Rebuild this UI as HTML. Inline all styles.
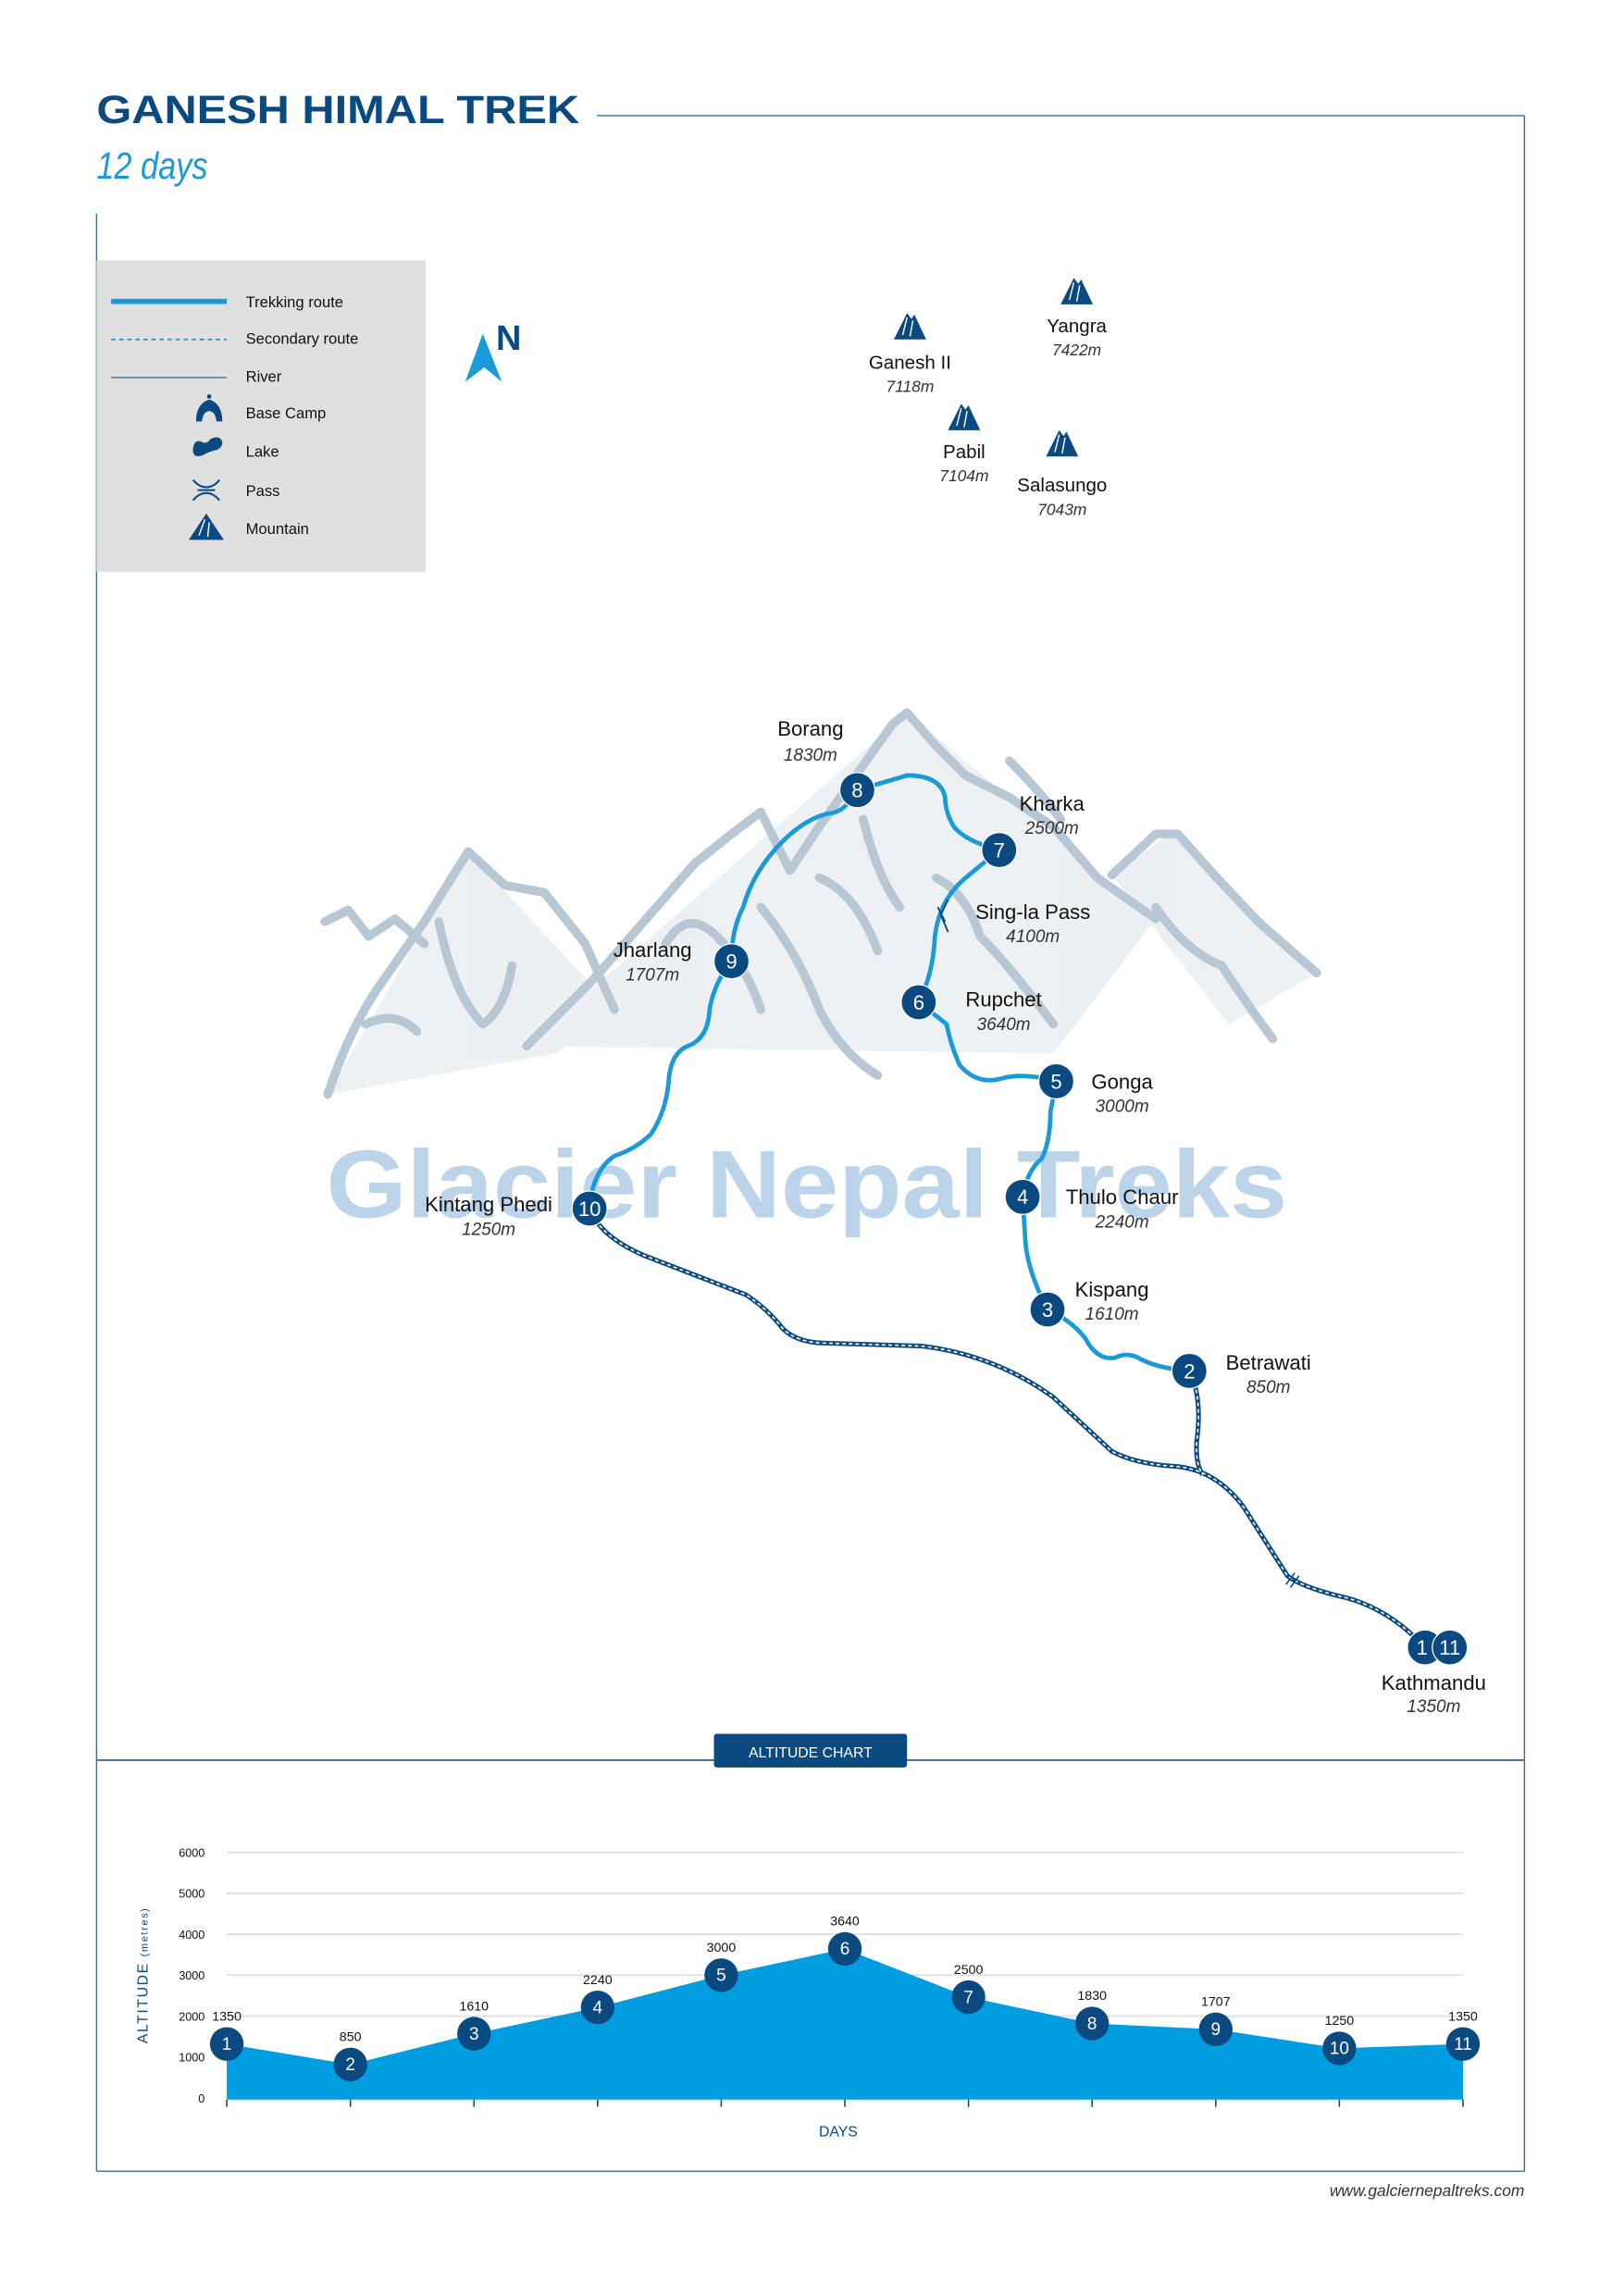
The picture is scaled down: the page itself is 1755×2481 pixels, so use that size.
<!DOCTYPE html>
<html><head><meta charset="utf-8"><style>
html,body{margin:0;padding:0;background:#fff}
svg{display:block}
text{font-family:"Liberation Sans",sans-serif}
</style></head><body>
<svg width="1755" height="2481" viewBox="0 0 1755 2481" xmlns="http://www.w3.org/2000/svg">
<g transform="scale(1.581)">
<!-- borders -->
<g stroke="#3d6d95" stroke-width="0.9" fill="none">
<line x1="408" y1="79" x2="1042" y2="79"/>
<line x1="1042" y1="79" x2="1042" y2="1484"/>
<line x1="66" y1="146" x2="66" y2="1484"/>
<line x1="66" y1="1484" x2="1042" y2="1484"/>
<line x1="66" y1="1203" x2="1042" y2="1203" stroke-width="1.2"/>
</g>
<text x="66" y="84" font-size="27" font-weight="bold" fill="#0b4a80" textLength="330" lengthAdjust="spacingAndGlyphs">GANESH HIMAL TREK</text>
<text x="66" y="122" font-size="26" font-style="italic" fill="#1a9ad9" textLength="76" lengthAdjust="spacingAndGlyphs">12 days</text>

<!-- legend -->
<rect x="66" y="178" width="225" height="213" fill="#e0e0e0"/>
<line x1="76" y1="206" x2="155" y2="206" stroke="#1a9ad9" stroke-width="3.5"/>
<line x1="76" y1="232" x2="155" y2="232" stroke="#1a9ad9" stroke-width="1.2" stroke-dasharray="3,2.5"/>
<line x1="76" y1="258" x2="155" y2="258" stroke="#6b8caa" stroke-width="1.2"/>
<g fill="#0b4a80">
<path d="M134,288 Q134,276 143,273 Q152,276 152,288 L148,288 Q147,281 143,281 Q139,281 138,288 Z"/>
<circle cx="143" cy="271" r="1.5"/>
<path d="M132,306 Q133,300 138,302 Q141,304 144,300 Q150,297 152,302 Q152,307 146,308 Q142,309 139,311 Q131,314 132,306Z"/>
<path d="M132,328 Q136,333 141,333 Q146,333 150,328 M132,342 Q136,337 141,337 Q146,337 150,342 M135,335 L147,335" stroke="#0b4a80" stroke-width="1.3" fill="none"/>
<path d="M129,369 L141,351 L153,369 Z"/>
<path d="M140,355 L136,366 M143,357 L142,367" stroke="#fff" stroke-width="0.9"/>
</g>
<g font-size="10.5" fill="#111">
<text x="168" y="210">Trekking route</text>
<text x="168" y="235">Secondary route</text>
<text x="168" y="261">River</text>
<text x="168" y="286">Base Camp</text>
<text x="168" y="312">Lake</text>
<text x="168" y="339">Pass</text>
<text x="168" y="365">Mountain</text>
</g>
<!-- north -->
<path d="M318,261 L330,228 L343,261 L331,251 Z" fill="#1a9ad9"/>
<text x="339" y="239" font-size="24" font-weight="bold" fill="#0b4a80">N</text>

<!-- mountain icons -->
<defs>
<g id="mt"><path d="M-11,9 L-2,-9 L1,-5 L3,-8 L11,9 Z" fill="#0b4a80"/><path d="M-2,-6 L-5,6 M2,-4 L0,7" stroke="#fff" stroke-width="0.9"/></g>
</defs>
<use href="#mt" x="736" y="199"/>
<use href="#mt" x="622" y="223"/>
<use href="#mt" x="659" y="285"/>
<use href="#mt" x="726" y="303"/>
<g text-anchor="middle">
<g font-size="13" fill="#111">
<text x="736" y="227">Yangra</text><text x="622" y="252">Ganesh II</text>
<text x="659" y="313">Pabil</text><text x="726" y="336">Salasungo</text>
</g>
<g font-size="11" fill="#333" font-style="italic">
<text x="736" y="243">7422m</text><text x="622" y="268">7118m</text>
<text x="659" y="329">7104m</text><text x="726" y="352">7043m</text>
</g>
</g>

<!-- mountain background -->
<g fill="#c3d0da" opacity="0.3">
<path d="M224,748 L320,582 L420,690 L380,720 Z"/>
<path d="M360,715 L620,487 L790,628 L720,720 Z"/>
<path d="M760,598 L800,570 L900,665 L840,700 Z"/>
</g>
<g fill="none" stroke="#b7c7d3" stroke-width="6" stroke-linejoin="round" stroke-linecap="round">
<path d="M224,748 Q240,700 262,670 L290,630 L320,582 L345,605 L372,610 L400,645 L420,690"/>
<path d="M222,630 L238,622 L252,640 L270,628 L290,645"/>
<path d="M300,630 Q310,680 330,700 Q345,690 350,660"/>
<path d="M360,715 L405,670 L440,630 L475,590 L500,570 L520,555 L540,595 L560,565 L585,530 L610,495 L620,487 L640,510 L660,530 L690,545 L720,565 L750,600 L790,628"/>
<path d="M455,645 Q470,620 490,640 Q510,660 520,690"/>
<path d="M520,620 Q545,650 560,690 Q575,720 600,735"/>
<path d="M560,600 Q585,610 600,650"/>
<path d="M640,600 Q660,610 670,640 Q690,660 720,700"/>
<path d="M760,598 L790,570 L805,570 L830,598 L860,630 L900,665"/>
<path d="M790,620 Q810,650 835,660 Q855,690 870,710"/>
<path d="M690,520 Q710,540 725,560"/>
<path d="M590,560 Q600,600 615,620"/>
<path d="M250,700 Q270,690 285,705"/>
</g>

<!-- watermark -->
<text x="223" y="832" font-size="66" font-weight="bold" fill="#bcd4ea" textLength="657" lengthAdjust="spacingAndGlyphs">Glacier Nepal Treks</text>

<!-- secondary route -->
<path d="M403,826 Q410,845 440,858 L510,885 Q525,895 535,908 Q545,918 565,918 L630,920 Q680,926 720,955 L760,992 Q775,1000 800,1002 Q830,1003 850,1030 L880,1077 Q890,1085 920,1092 Q950,1100 974,1126 M813,937 Q822,955 818,985 Q817,1000 822,1008" fill="none" stroke="#0b4a80" stroke-width="3.2"/>
<path d="M403,826 Q410,845 440,858 L510,885 Q525,895 535,908 Q545,918 565,918 L630,920 Q680,926 720,955 L760,992 Q775,1000 800,1002 Q830,1003 850,1030 L880,1077 Q890,1085 920,1092 Q950,1100 974,1126 M813,937 Q822,955 818,985 Q817,1000 822,1008" fill="none" stroke="#fff" stroke-width="1" stroke-dasharray="2.5,2"/>
<path d="M879,1083 L885,1075 M882,1085 L888,1077" stroke="#0b4a80" stroke-width="1"/>

<!-- trekking route -->
<path d="M813,937 Q790,935 778,928 Q770,924 762,928 Q750,930 742,915 Q733,903 716,895 Q703,870 701,850 L699,818 Q702,800 712,792 Q718,780 718,760 L722,739 Q700,733 685,737 Q668,742 656,728 Q650,715 647,700 L628,685 Q638,665 639,640 Q642,615 660,600 L683,581 Q660,575 652,565 Q646,555 646,545 Q643,530 620,530 L586,540 Q577,556 566,556 Q550,560 535,575 Q515,595 508,620 Q500,635 500,657 Q488,672 485,690 Q484,710 470,715 Q458,720 457,740 Q455,760 445,775 Q435,785 420,790 Q405,800 403,826" fill="none" stroke="#1a9ad9" stroke-width="3"/>
<path d="M648,615 L643,625 L648,637 M641,620 L646,630" stroke="#0b4a80" stroke-width="1.2" fill="none"/>

<!-- nodes -->
<g fill="#0b4a80" stroke="#fff" stroke-width="0.8">
<circle cx="586" cy="540" r="12"/><circle cx="683" cy="581" r="12"/><circle cx="628" cy="685" r="12"/>
<circle cx="722" cy="739" r="12"/><circle cx="699" cy="818" r="12"/><circle cx="716" cy="895" r="12"/>
<circle cx="813" cy="937" r="12"/><circle cx="403" cy="826" r="12"/><circle cx="500" cy="657" r="12"/>
<circle cx="974" cy="1126" r="12"/><circle cx="991" cy="1126" r="12"/>
</g>
<g fill="#fff" font-size="14" text-anchor="middle">
<text x="586" y="545">8</text><text x="683" y="586">7</text><text x="628" y="690">6</text>
<text x="722" y="744">5</text><text x="699" y="823">4</text><text x="716" y="900">3</text>
<text x="813" y="942">2</text><text x="403" y="831">10</text><text x="500" y="662">9</text>
<text x="972" y="1131">1</text><text x="991" y="1131">11</text>
</g>
<g text-anchor="middle">
<g font-size="14" fill="#111">
<text x="554" y="503">Borang</text><text x="719" y="554">Kharka</text><text x="706" y="628">Sing-la Pass</text>
<text x="686" y="688">Rupchet</text><text x="767" y="744">Gonga</text><text x="767" y="823">Thulo Chaur</text>
<text x="760" y="886">Kispang</text><text x="867" y="936">Betrawati</text><text x="446" y="654">Jharlang</text>
<text x="334" y="828">Kintang Phedi</text><text x="980" y="1155">Kathmandu</text>
</g>
<g font-size="12" fill="#333" font-style="italic">
<text x="554" y="520">1830m</text><text x="719" y="570">2500m</text><text x="706" y="644">4100m</text>
<text x="686" y="704">3640m</text><text x="767" y="760">3000m</text><text x="767" y="839">2240m</text>
<text x="760" y="902">1610m</text><text x="867" y="952">850m</text><text x="446" y="670">1707m</text>
<text x="334" y="844">1250m</text><text x="980" y="1170">1350m</text>
</g>
</g>

<!-- altitude chart -->
<rect x="488" y="1185" width="132" height="23" rx="2" fill="#0b4a80"/>
<text x="554" y="1201" font-size="10" fill="#fff" text-anchor="middle">ALTITUDE CHART</text>
<g stroke="#dcdcdc" stroke-width="1">
<line x1="155" y1="1266" x2="1000" y2="1266"/><line x1="155" y1="1294" x2="1000" y2="1294"/>
<line x1="155" y1="1322" x2="1000" y2="1322"/><line x1="155" y1="1350" x2="1000" y2="1350"/>
<line x1="155" y1="1378" x2="1000" y2="1378"/>
</g>
<g font-size="8" fill="#111" text-anchor="end">
<text x="140" y="1269">6000</text><text x="140" y="1297">5000</text><text x="140" y="1325">4000</text>
<text x="140" y="1353">3000</text><text x="140" y="1381">2000</text><text x="140" y="1409">1000</text><text x="140" y="1437">0</text>
</g>
<text transform="translate(101,1350) rotate(-90)" font-size="10" fill="#0b4a80" text-anchor="middle" letter-spacing="1">ALTITUDE <tspan font-size="7">(metres)</tspan></text>
<polygon fill="#009de0" points="155,1435 155,1397 239.5,1411 324,1390 408.5,1372 493,1350 577.5,1332 662,1365 746.5,1383 831,1387 915.5,1400 1000,1397 1000,1435"/>
<g stroke="#0b4a80" stroke-width="1">
<line x1="155" y1="1435" x2="155" y2="1440"/><line x1="239.5" y1="1435" x2="239.5" y2="1440"/><line x1="324" y1="1435" x2="324" y2="1440"/>
<line x1="408.5" y1="1435" x2="408.5" y2="1440"/><line x1="493" y1="1435" x2="493" y2="1440"/><line x1="577.5" y1="1435" x2="577.5" y2="1440"/>
<line x1="662" y1="1435" x2="662" y2="1440"/><line x1="746.5" y1="1435" x2="746.5" y2="1440"/><line x1="831" y1="1435" x2="831" y2="1440"/>
<line x1="915.5" y1="1435" x2="915.5" y2="1440"/><line x1="1000" y1="1435" x2="1000" y2="1440"/>
</g>
<g fill="#0b4a80">
<circle cx="155" cy="1397" r="11.5"/><circle cx="239.5" cy="1411" r="11.5"/><circle cx="324" cy="1390" r="11.5"/>
<circle cx="408.5" cy="1372" r="11.5"/><circle cx="493" cy="1350" r="11.5"/><circle cx="577.5" cy="1332" r="11.5"/>
<circle cx="662" cy="1365" r="11.5"/><circle cx="746.5" cy="1383" r="11.5"/><circle cx="831" cy="1387" r="11.5"/>
<circle cx="915.5" cy="1400" r="11.5"/><circle cx="1000" cy="1397" r="11.5"/>
</g>
<g fill="#fff" font-size="12" text-anchor="middle">
<text x="155" y="1401">1</text><text x="239.5" y="1415">2</text><text x="324" y="1394">3</text>
<text x="408.5" y="1376">4</text><text x="493" y="1354">5</text><text x="577.5" y="1336">6</text>
<text x="662" y="1369">7</text><text x="746.5" y="1387">8</text><text x="831" y="1391">9</text>
<text x="915.5" y="1404">10</text><text x="1000" y="1401">11</text>
</g>
<g fill="#111" font-size="9" text-anchor="middle">
<text x="155" y="1381">1350</text><text x="239.5" y="1395">850</text><text x="324" y="1374">1610</text>
<text x="408.5" y="1356">2240</text><text x="493" y="1334">3000</text><text x="577.5" y="1316">3640</text>
<text x="662" y="1349">2500</text><text x="746.5" y="1367">1830</text><text x="831" y="1371">1707</text>
<text x="915.5" y="1384">1250</text><text x="1000" y="1381">1350</text>
</g>
<text x="573" y="1460" font-size="10" fill="#0b4a80" text-anchor="middle">DAYS</text>
<text x="1042" y="1501" font-size="11" fill="#333" font-style="italic" text-anchor="end">www.galciernepaltreks.com</text>
</g>
</svg>
</body></html>
